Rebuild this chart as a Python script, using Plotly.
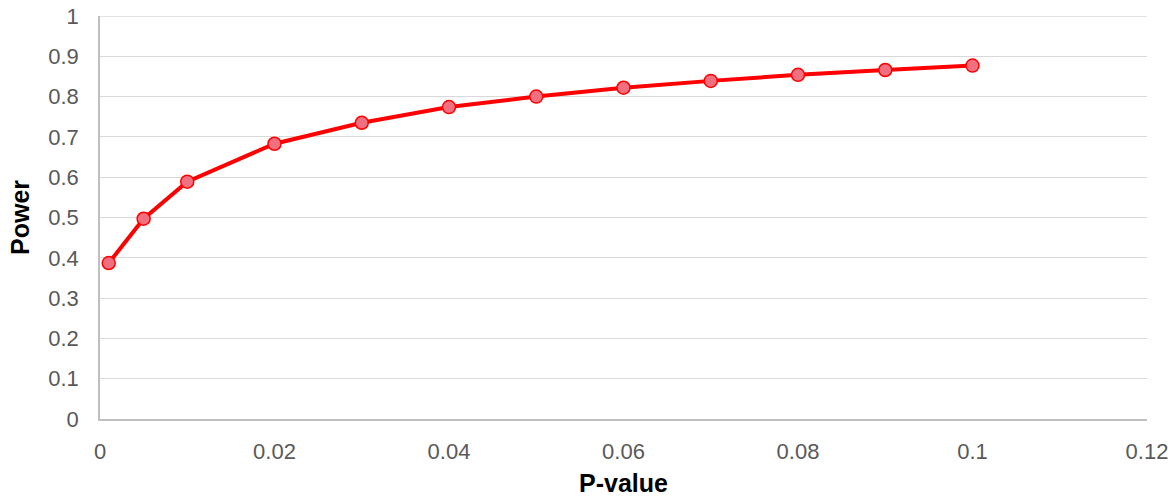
import plotly.graph_objects as go

p_values = [0.001, 0.005, 0.01, 0.02, 0.03, 0.04, 0.05, 0.06, 0.07, 0.08, 0.09, 0.1]
power = [0.387, 0.497, 0.589, 0.683, 0.735, 0.774, 0.800, 0.822, 0.839, 0.854, 0.866, 0.877]

x_ticks = [0, 0.02, 0.04, 0.06, 0.08, 0.1, 0.12]
x_tick_text = ["0", "0.02", "0.04", "0.06", "0.08", "0.1", "0.12"]
y_ticks = [0, 0.1, 0.2, 0.3, 0.4, 0.5, 0.6, 0.7, 0.8, 0.9, 1]
y_tick_text = ["0", "0.1", "0.2", "0.3", "0.4", "0.5", "0.6", "0.7", "0.8", "0.9", "1"]

GRID = "#d9d9d9"

fig = go.Figure()
fig.add_trace(go.Scatter(
    x=p_values, y=power, mode="lines+markers",
    line=dict(color="#ff0000", width=4),
    marker=dict(size=13, color="#f07080", line=dict(color="#ff0000", width=1.5)),
    cliponaxis=False, showlegend=False,
))

# top gridline (at the top edge of the y range) which plotly omits
fig.add_shape(type="line", xref="paper", x0=0, x1=1, yref="y", y0=y_ticks[-1], y1=y_ticks[-1],
              line=dict(color=GRID, width=1.3), layer="below")

fig.update_layout(
    width=1175, height=497,
    margin=dict(l=100, r=28, t=16, b=78),
    paper_bgcolor="white", plot_bgcolor="white",
    font=dict(family="Liberation Sans, Arial, sans-serif", size=22, color="#595959"),
    xaxis=dict(
        range=[0, 0.12], tickvals=x_ticks, ticktext=x_tick_text,
        showgrid=False, zeroline=False, showline=True, linecolor="#bfbfbf", linewidth=1.5,
        ticks="", ticklabelstandoff=12, automargin=False,
        title=dict(text="<b>P-value</b>", font=dict(size=25, color="#000000"), standoff=16),
    ),
    yaxis=dict(
        range=[0, 1], tickvals=y_ticks, ticktext=y_tick_text,
        showgrid=True, gridcolor=GRID, gridwidth=1.3,
        zeroline=False, showline=True, linecolor="#bfbfbf", linewidth=1.5,
        ticks="", ticklabelstandoff=15, automargin=False,
        title=dict(text="<b>Power</b>", font=dict(size=25, color="#000000"), standoff=12),
    ),
)

fig.write_html("out.html", config={"displayModeBar": False},
               post_script="document.body.style.margin='0';")
